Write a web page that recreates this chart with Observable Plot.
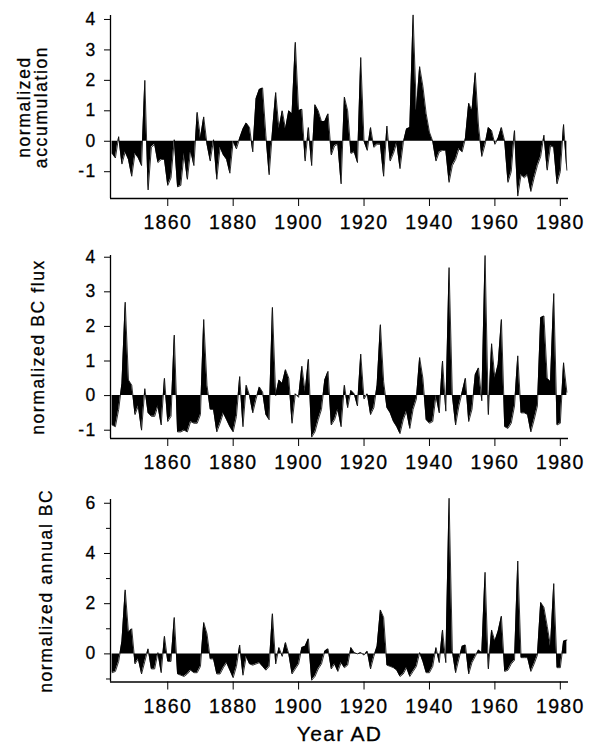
<!DOCTYPE html>
<html><head><meta charset="utf-8">
<script src="https://cdn.jsdelivr.net/npm/d3@7"></script>
<script src="https://cdn.jsdelivr.net/npm/@observablehq/plot@0.6"></script>
<style>
body{margin:0;background:#fff;}
#chart{position:relative;width:591px;height:749px;overflow:hidden;background:#fff;}
#chart svg{position:absolute;left:0;}
#chart svg text{letter-spacing:1.3px;stroke:#000;stroke-width:0.3px;}
#chart svg g[aria-label="y-axis label"] text{letter-spacing:1.6px;}
</style></head><body><div id="chart"></div>
<script>
const years = d3.range(1843, 1983);
const accumulation = [
-0.4,-0.55,0.15,-0.75,-0.35,-0.6,-1.15,-0.4,-0.55,-0.8,
2.0,-1.6,-0.2,-0.1,-0.7,-0.6,-0.6,-1.45,-1.2,0.05,
-1.5,-1.45,-0.4,-1.25,-0.3,-0.8,0.95,0.1,0.8,-0.1,
-0.65,0.05,-1.25,-0.2,-0.45,-0.6,-1.05,0.0,-0.25,0.1,
0.4,0.6,0.45,-0.35,1.4,1.7,1.75,0.2,-1.1,0.3,
1.6,0.4,1.0,0.4,1.0,0.9,3.25,1.0,1.05,-0.65,
0.45,-0.8,1.2,1.0,0.65,0.65,0.9,-0.45,-0.15,-0.1,
-1.4,1.45,1.0,-0.4,-0.35,-0.7,2.75,0.0,-0.3,0.45,
-0.2,-0.1,-0.1,-1.15,0.5,-0.65,-0.4,-0.05,-0.9,-0.05,
0.4,0.45,4.15,1.0,2.45,1.8,0.9,0.3,0.0,-0.65,
-0.35,-0.3,-0.3,-1.35,-0.8,-0.6,-0.25,-0.35,0.1,1.25,
1.0,2.25,0.5,-0.5,-0.1,0.45,0.35,-0.1,0.1,0.45,
0.0,-1.35,-1.0,0.35,-1.8,-1.1,-1.2,-1.1,-1.65,-1.2,
-0.8,-0.5,0.2,-0.95,-0.15,-0.2,-1.4,-1.0,0.55,-0.95];
const bcFlux = [
-0.85,-0.9,-0.4,0.35,2.7,0.45,0.3,-0.55,-0.3,-1.0,
0.2,-0.5,-0.6,-0.6,-0.3,-0.85,0.5,-0.75,-0.6,1.75,
-1.05,-1.05,-1.0,-1.05,-0.75,-0.8,-0.8,-0.55,2.2,0.3,
-0.4,-0.4,-1.05,-0.8,-0.5,-0.7,-0.9,-1.05,-0.6,0.55,
-0.9,0.3,0.0,-0.5,-0.1,0.25,0.1,-0.55,-0.7,2.55,
0.0,0.45,0.35,0.75,0.5,-0.8,0.05,-0.05,0.85,0.1,
1.05,-1.2,-1.05,-0.7,-0.4,0.45,0.7,-0.85,-0.7,-0.4,
-0.9,0.3,-0.35,0.15,0.05,-0.3,1.2,-0.1,0.05,-0.55,
-0.35,0.3,2.05,0.4,-0.35,-0.5,-0.75,-0.9,-1.1,-0.7,
-0.45,-0.95,-0.4,-0.1,1.1,0.5,-0.7,-0.8,-0.75,0.0,
-0.5,1.0,-0.45,3.7,0.0,-0.85,-0.3,0.1,0.5,-0.75,
-0.4,0.6,0.8,-0.15,4.05,-0.55,1.5,0.5,0.9,2.2,
-0.9,-0.95,-0.8,-0.3,1.15,-0.5,-0.5,-0.55,-1.05,-0.7,
-0.3,2.25,2.3,0.5,0.4,2.95,-0.85,-0.8,0.95,0.1];
const annualBC = [
-0.75,-0.7,-0.3,0.5,2.55,0.85,1.0,-0.4,-0.2,-0.8,
-0.3,0.2,-0.6,-0.6,0.05,-0.75,0.7,-0.3,-0.3,1.45,
-0.8,-0.85,-0.9,-0.8,-0.65,-0.75,-0.75,-0.5,1.25,0.8,
-0.2,-0.2,-0.8,-0.8,-0.55,-0.35,-0.65,-0.95,-0.5,0.35,
-0.85,-0.1,-0.4,-0.45,-0.4,-0.35,-0.5,-0.65,-0.5,1.6,
-0.4,0.25,-0.1,0.45,0.0,-0.8,-0.6,-0.4,0.25,0.3,
0.6,-1.05,-0.9,-0.6,-0.4,0.1,0.2,-0.6,-0.4,-0.7,
-0.35,-0.55,-0.45,0.25,0.05,0.0,0.05,-0.05,0.1,-0.6,
-0.1,0.3,1.75,1.45,-0.45,-0.5,-0.55,-0.65,-0.9,-0.8,
-0.55,-0.9,-0.7,-0.5,0.05,-0.3,-0.75,-0.75,-0.5,0.25,
-0.35,0.95,-0.35,6.2,0.1,-0.75,-0.2,0.3,0.35,-0.8,
-0.35,-0.1,0.15,0.05,3.25,-0.6,0.95,0.5,0.9,1.5,
-0.7,-0.65,-0.4,-0.25,3.7,-0.15,-0.15,-0.15,-0.7,-0.4,
-0.05,2.05,1.85,1.1,0.3,2.8,-0.55,-0.55,0.5,0.55];
const xTicks = [1860, 1880, 1900, 1920, 1940, 1960, 1980];
const yTicks1 = [-1, 0, 1, 2, 3, 4];
const yTicks2 = [-1, 0, 1, 2, 3, 4];
const yTicks3 = [0, 2, 4, 6];
const yMinor3 = [-1, 1, 3, 5];
const labels = ["normalized\naccumulation", "normalized BC flux", "normalized annual BC"];
const xTitle = "Year AD";
const xDomain = [1842.5, 1982.5];

const FONT = "'Liberation Sans', Arial, Helvetica, sans-serif";

function panel(cfg) {
  const data = years.map((year, i) => ({year, value: cfg.values[i]}));
  const marks = [
    Plot.areaY(data, {x: "year", y: "value", fill: "black"}),
    Plot.lineY(data, {x: "year", y: "value", stroke: "black", strokeWidth: 0.8}),
    Plot.ruleX([xDomain[0]], {stroke: "black", strokeWidth: 1.3}),
    Plot.ruleY([cfg.yDomain[0]], {stroke: "black", strokeWidth: 1.3}),
    Plot.axisX({ticks: xTicks, tickSize: 8, tickPadding: 9, fontSize: 19.5, tickFormat: d => String(d), label: null}),
    Plot.axisY({ticks: cfg.yTicks, tickSize: 6, tickPadding: 8, fontSize: 17.5, tickFormat: d => String(d),
      label: cfg.label, labelAnchor: "center", labelOffset: cfg.labelOffset, labelArrow: "none"})
  ];
  if (cfg.xLabel) marks.push(Plot.axisX({ticks: [], tickSize: 0, fontSize: 21, label: cfg.xLabel,
      labelAnchor: "center", labelOffset: cfg.xLabelOffset, labelArrow: "none"}));
  if (cfg.minor) marks.push(Plot.axisY({ticks: cfg.minor, tickSize: 4, text: null, label: null}));
  const svg = Plot.plot({
    width: 591, height: cfg.height,
    marginLeft: 110, marginRight: 23, marginTop: cfg.marginTop, marginBottom: cfg.marginBottom,
    x: {domain: xDomain},
    y: {domain: cfg.yDomain},
    style: {fontFamily: FONT, fontSize: "19px", background: "transparent", overflow: "visible", color: "black"},
    marks
  });
  svg.style.top = cfg.top + "px";
  document.getElementById("chart").appendChild(svg);
}

panel({values: accumulation, yDomain: [-1.88, 4.13], yTicks: yTicks1, label: labels[0], labelOffset: 93,
  top: 0, height: 240, marginTop: 15, marginBottom: 42});
panel({values: bcFlux, yDomain: [-1.24, 4.05], yTicks: yTicks2, label: labels[1], labelOffset: 79,
  top: 240, height: 235, marginTop: 15, marginBottom: 37});
panel({values: annualBC, yDomain: [-1.12, 6.15], yTicks: yTicks3, minor: yMinor3, label: labels[2], labelOffset: 71,
  top: 475, height: 274, marginTop: 24, marginBottom: 67.5, xLabel: xTitle, xLabelOffset: 59});
</script></body></html>
